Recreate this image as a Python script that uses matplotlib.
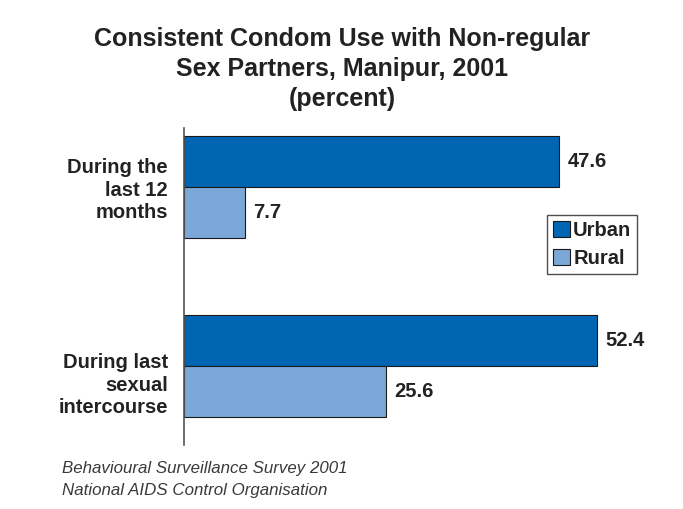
import matplotlib
matplotlib.use("Agg")
import matplotlib.pyplot as plt
import matplotlib.transforms as mtransforms
import numpy as np

categories = ["During the\nlast 12\nmonths", "During last\nsexual\nintercourse"]
urban = [47.6, 52.4]
rural = [7.7, 25.6]
series_names = ["Urban", "Rural"]
title = "Consistent Condom Use with Non-regular\nSex Partners, Manipur, 2001\n(percent)"
source = ["Behavioural Surveillance Survey 2001", "National AIDS Control Organisation"]

plt.rcParams['font.family'] = ['Liberation Sans', 'DejaVu Sans']

W, H = 683, 509
fig = plt.figure(figsize=(W/100, H/100), dpi=100)
left, right, top, bottom = 184, 657, 128, 445
ax = fig.add_axes([left/W, 1-bottom/H, (right-left)/W, (bottom-top)/H])

c_urban = "#0066b3"
c_rural = "#7ba7d9"
txt = "#222222"
fs = 14.5
bh = 0.285
y = np.arange(len(categories))
ax.barh(y - bh/2, urban, height=bh, color=c_urban, edgecolor="#1a1a1a", linewidth=0.8, label=series_names[0])
ax.barh(y + bh/2, rural, height=bh, color=c_rural, edgecolor="#1a1a1a", linewidth=0.8, label=series_names[1])

for yi, v in zip(y - bh/2, urban):
    ax.text(v + 1.1, yi, f"{v}", va="center", ha="left", fontsize=fs, fontweight="bold", color=txt)
for yi, v in zip(y + bh/2, rural):
    ax.text(v + 1.1, yi, f"{v}", va="center", ha="left", fontsize=fs, fontweight="bold", color=txt)

ax.set_xlim(0, 60)
ax.set_ylim(1.441, -0.33)
ax.set_yticks([])
ax.set_xticks([])

# category labels (right aligned left of the axis line)
label_shift = [0.017, 0.106]
tr = mtransforms.blended_transform_factory(ax.transAxes, ax.transData) + \
    mtransforms.ScaledTranslation(-16/100, 0, fig.dpi_scale_trans)
for yi, lab, sh in zip(y, categories, label_shift):
    ax.text(0, yi + sh, lab, transform=tr, ha="right", va="center", fontsize=fs,
            fontweight="bold", color=txt, linespacing=1.23, multialignment="right")

for s in ["top", "right", "bottom"]:
    ax.spines[s].set_visible(False)
ax.spines["left"].set_color("#555555")
ax.spines["left"].set_linewidth(1.2)

leg = ax.legend(loc="upper left", bbox_to_anchor=((547-left)/(right-left), 1-(215-top)/(bottom-top)),
                frameon=True, fancybox=False, edgecolor="#222222",
                prop={"weight": "bold", "size": fs}, handlelength=0.85, handleheight=0.85,
                handletextpad=0.15, borderpad=0.3, labelspacing=0.45, borderaxespad=0)
leg.get_frame().set_linewidth(1.0)
for t in leg.get_texts():
    t.set_color(txt)

fig.text(342/W, 1-69/H, title, ha="center", va="center", fontsize=18, fontweight="bold",
         color=txt, linespacing=1.32)
fig.text(62/W, 1-469/H, source[0], ha="left", va="center", fontsize=12.2, style="italic", color="#3a3a3a")
fig.text(62/W, 1-490/H, source[1], ha="left", va="center", fontsize=12.2, style="italic", color="#3a3a3a")

fig.savefig("out.png", dpi=100)
